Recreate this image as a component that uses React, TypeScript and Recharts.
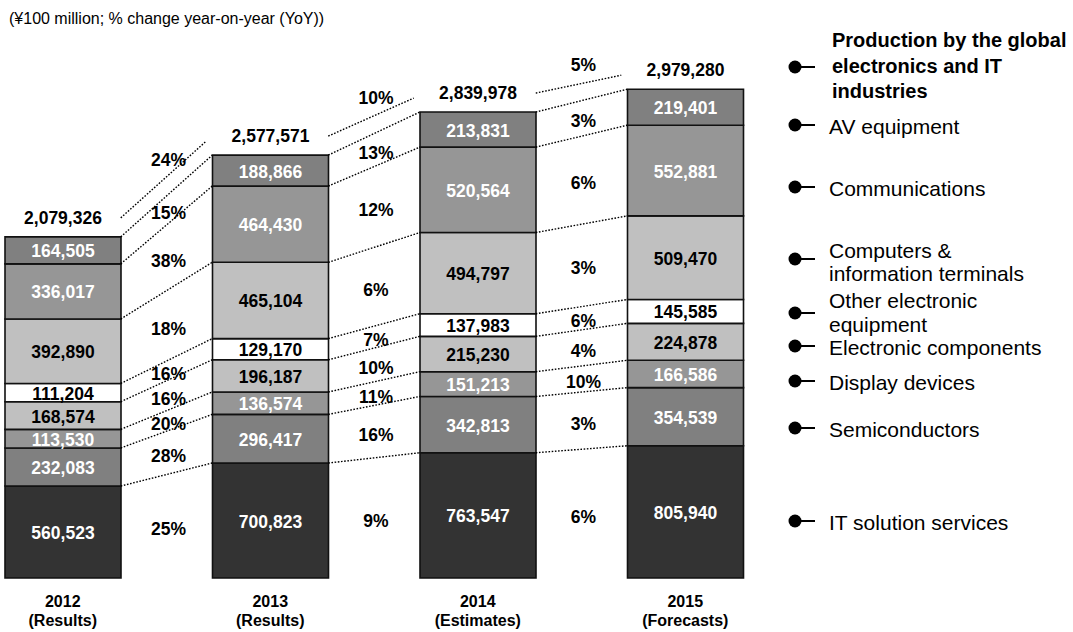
import { Bar, BarChart, LabelList, ReferenceLine, XAxis, YAxis } from "recharts";

const years = ["2012", "2013", "2014", "2015"];
const yearNotes = ["(Results)", "(Results)", "(Estimates)", "(Forecasts)"];

// bottom to top of each stack (¥100 million)
const itSolution = [560523, 700823, 763547, 805940];
const semiconductors = [232083, 296417, 342813, 354539];
const displayDevices = [113530, 136574, 151213, 166586];
const electronicComponents = [168574, 196187, 215230, 224878];
const otherElectronic = [111204, 129170, 137983, 145585];
const computers = [392890, 465104, 494797, 509470];
const communications = [336017, 464430, 520564, 552881];
const avEquipment = [164505, 188866, 213831, 219401];
const totals = [2079326, 2577571, 2839978, 2979280];

// YoY change between neighbouring years
const itGrowth = ["25%", "9%", "6%"];
const semiGrowth = ["28%", "16%", "3%"];
const displayGrowth = ["20%", "11%", "10%"];
const componentsGrowth = ["16%", "10%", "4%"];
const otherGrowth = ["16%", "7%", "6%"];
const computersGrowth = ["18%", "6%", "3%"];
const commsGrowth = ["38%", "12%", "6%"];
const avGrowth = ["15%", "13%", "3%"];
const totalGrowth = ["24%", "10%", "5%"];

const legendTitle = ["Production by the global", "electronics and IT", "industries"];

const SERIES = [
  { key: "it", values: itSolution, growth: itGrowth, fill: "#333333", text: "#ffffff", legend: ["IT solution services"] },
  { key: "semi", values: semiconductors, growth: semiGrowth, fill: "#808080", text: "#ffffff", legend: ["Semiconductors"] },
  { key: "display", values: displayDevices, growth: displayGrowth, fill: "#969696", text: "#ffffff", legend: ["Display devices"] },
  { key: "components", values: electronicComponents, growth: componentsGrowth, fill: "#c0c0c0", text: "#000000", legend: ["Electronic components"] },
  { key: "other", values: otherElectronic, growth: otherGrowth, fill: "#ffffff", text: "#000000", legend: ["Other electronic", "equipment"] },
  { key: "computers", values: computers, growth: computersGrowth, fill: "#c0c0c0", text: "#000000", legend: ["Computers &", "information terminals"] },
  { key: "comms", values: communications, growth: commsGrowth, fill: "#969696", text: "#ffffff", legend: ["Communications"] },
  { key: "av", values: avEquipment, growth: avGrowth, fill: "#808080", text: "#ffffff", legend: ["AV equipment"] },
];

const data = years.map((year, i) => {
  const row: Record<string, string | number> = { year, note: yearNotes[i], total: totals[i] };
  SERIES.forEach((s) => (row[s.key] = s.values[i]));
  return row;
});

const FONT = '"Liberation Sans", Arial, Helvetica, sans-serif';
const BAR_SIZE = 116;
const HALF = BAR_SIZE / 2;
const fmt = (v: number) => v.toLocaleString("en-US");

const cumTop = (k: number, i: number) =>
  SERIES.slice(0, k + 1).reduce((sum, s) => sum + s.values[i], 0);
const cumMid = (k: number, i: number) => cumTop(k, i) - SERIES[k].values[i] / 2;

const dotted = { stroke: "#000", strokeWidth: 1.4, strokeDasharray: "1.6 1.6" };

// marker y / text line y for the legend on the right
const LEGEND_LAYOUT: Record<string, { marker: number; lines: number[] }> = {
  av: { marker: 125, lines: [126] },
  comms: { marker: 187, lines: [188] },
  computers: { marker: 259, lines: [250, 273] },
  other: { marker: 313, lines: [300, 324] },
  components: { marker: 346, lines: [347] },
  display: { marker: 381, lines: [382] },
  semi: { marker: 428, lines: [429] },
  it: { marker: 521, lines: [522] },
};

function Marker({ y }: { y: number }) {
  return (
    <g>
      <circle cx={795} cy={y} r={6.5} fill="#000" />
      <line x1={800} y1={y} x2={815} y2={y} stroke="#000" strokeWidth={2} />
    </g>
  );
}

function LegendPanel() {
  return (
    <svg width={1073} height={632} style={{ position: "absolute", left: 0, top: 0, fontFamily: FONT }}>
      <Marker y={67} />
      {legendTitle.map((line, j) => (
        <text key={line} x={832} y={40 + j * 25.5} dominantBaseline="central" fontSize={20} fontWeight={700}>
          {line}
        </text>
      ))}
      {SERIES.map((s) => {
        const pos = LEGEND_LAYOUT[s.key];
        return (
          <g key={s.key}>
            <Marker y={pos.marker} />
            {s.legend.map((line, j) => (
              <text key={line} x={829} y={pos.lines[j]} dominantBaseline="central" fontSize={21}>
                {line}
              </text>
            ))}
          </g>
        );
      })}
    </svg>
  );
}

function YearTick(props: any) {
  const { x, y, payload, index } = props;
  return (
    <g>
      <text x={x} y={y + 29} textAnchor="middle" fontSize={16} fontWeight={700} fill="#000">
        {payload.value}
      </text>
      <text x={x} y={y + 48} textAnchor="middle" fontSize={16} fontWeight={700} fill="#000">
        {yearNotes[index]}
      </text>
    </g>
  );
}

function box(p: any) {
  const vb = p.viewBox ?? p;
  return { x: vb.x, y: vb.y, width: vb.width, height: vb.height };
}

export default function App() {
  const pairs = [0, 1, 2];
  return (
    <div style={{ position: "absolute", left: 0, top: 0, width: 1073, height: 632, background: "#fff", overflow: "hidden", fontFamily: FONT }}>
      <div style={{ position: "absolute", left: 9, top: 10, fontSize: 16, color: "#000" }}>
        (¥100 million; % change year-on-year (YoY))
      </div>
      <div style={{ position: "absolute", left: -41, top: 0 }}>
        <BarChart
          width={830}
          height={632}
          data={data}
          margin={{ top: 53, right: 0, left: 0, bottom: 0 }}
          barSize={BAR_SIZE}
          style={{ fontFamily: FONT }}
        >
          <XAxis
            dataKey="year"
            axisLine={false}
            tickLine={false}
            tickSize={0}
            tickMargin={0}
            height={54}
            interval={0}
            tick={<YearTick />}
          />
          <YAxis hide domain={[0, 3200000]} />
          {SERIES.map((s, k) => (
            <Bar
              key={s.key}
              dataKey={s.key}
              stackId="stack"
              fill={s.fill}
              stroke="#111"
              strokeWidth={1.6}
              isAnimationActive={false}
            >
              <LabelList
                dataKey={s.key}
                content={(p: any) => {
                  const b = box(p);
                  return (
                    <text
                      x={b.x + b.width / 2}
                      y={b.y + b.height / 2 + 1}
                      textAnchor="middle"
                      dominantBaseline="central"
                      fill={s.text}
                      fontSize={17.5}
                      fontWeight={700}
                    >
                      {fmt(Number(p.value))}
                    </text>
                  );
                }}
              />
              {k === SERIES.length - 1 && (
                <LabelList
                  dataKey="total"
                  content={(p: any) => {
                    const b = box(p);
                    return (
                      <text
                        x={b.x + b.width / 2}
                        y={b.y - 19}
                        textAnchor="middle"
                        dominantBaseline="central"
                        fill="#000"
                        fontSize={17.5}
                        fontWeight={700}
                      >
                        {fmt(Number(p.value))}
                      </text>
                    );
                  }}
                />
              )}
            </Bar>
          ))}
          {pairs.map((i) =>
            SERIES.map((s, k) => (
              <ReferenceLine
                key={`c-${s.key}-${i}`}
                segment={[
                  { x: years[i], y: cumTop(k, i) },
                  { x: years[i + 1], y: cumTop(k, i + 1) },
                ]}
                shape={(p: any) => (
                  <line x1={p.x1 + HALF} y1={p.y1} x2={p.x2 - HALF} y2={p.y2} {...dotted} />
                )}
              />
            ))
          )}
          {pairs.map((i) =>
            SERIES.map((s, k) => (
              <ReferenceLine
                key={`g-${s.key}-${i}`}
                segment={[
                  { x: years[i], y: cumMid(k, i) },
                  { x: years[i + 1], y: cumMid(k, i + 1) },
                ]}
                shape={(p: any) => (
                  <text
                    x={(p.x1 + p.x2) / 2 + 2}
                    y={(p.y1 + p.y2) / 2 + 3}
                    textAnchor="middle"
                    dominantBaseline="central"
                    fontSize={17.5}
                    fontWeight={700}
                    fill="#000"
                  >
                    {s.growth[i]}
                  </text>
                )}
              />
            ))
          )}
          {pairs.map((i) => (
            <ReferenceLine
              key={`t-${i}`}
              segment={[
                { x: years[i], y: totals[i] },
                { x: years[i + 1], y: totals[i + 1] },
              ]}
              shape={(p: any) => (
                <g>
                  <line x1={p.x1 + HALF} y1={p.y1 - 19} x2={p.x2 - HALF - 6} y2={p.y2 - 14} {...dotted} />
                  <text
                    x={(p.x1 + p.x2) / 2 + 2}
                    y={(p.y1 + p.y2) / 2 - 36}
                    textAnchor="middle"
                    dominantBaseline="central"
                    fontSize={17.5}
                    fontWeight={700}
                    fill="#000"
                  >
                    {totalGrowth[i]}
                  </text>
                </g>
              )}
            />
          ))}
        </BarChart>
      </div>
      <LegendPanel />
    </div>
  );
}
